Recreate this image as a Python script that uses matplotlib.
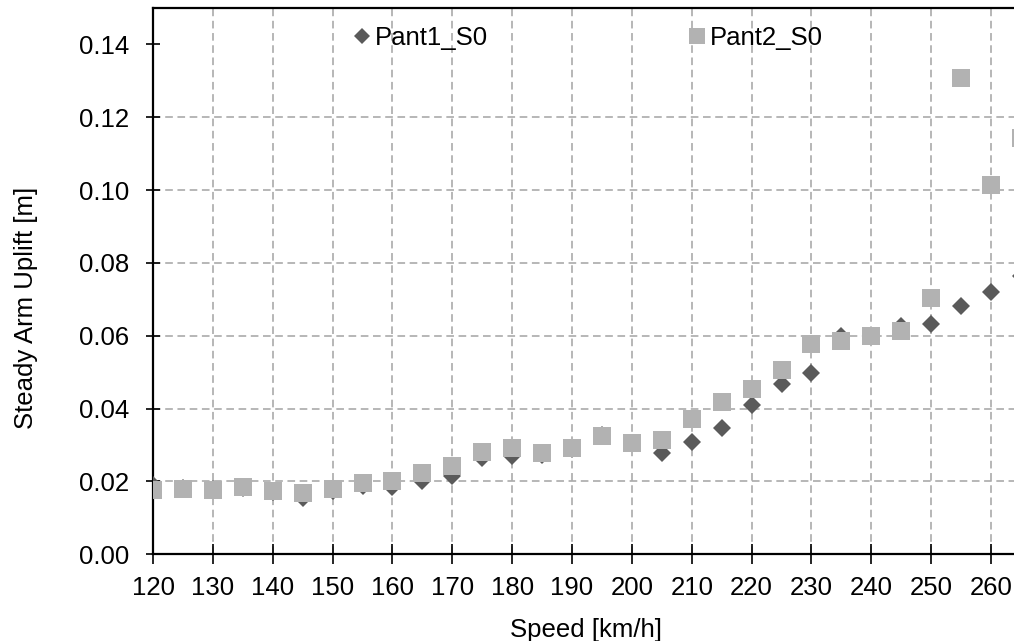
import matplotlib
matplotlib.use("Agg")
import matplotlib.pyplot as plt

plt.rcParams["font.family"] = ["Liberation Sans", "DejaVu Sans"]
plt.rcParams["font.size"] = 18.5

# Speed steps [km/h] and steady arm uplift [m] for both pantographs
speed = [120, 125, 130, 135, 140, 145, 150, 155, 160, 165,
         170, 175, 180, 185, 190, 195, 200, 205, 210, 215,
         220, 225, 230, 235, 240, 245, 250, 255, 260, 265]

pant1_s0 = [0.0189, 0.0181, 0.0178, 0.0181, 0.0172, 0.0154, 0.0174, 0.0188, 0.0186, 0.0200,
            0.0215, 0.0264, 0.0270, 0.0273, 0.0290, 0.0327, 0.0306, 0.0277, 0.0307, 0.0346,
            0.0411, 0.0467, 0.0499, 0.0598, 0.0600, 0.0626, 0.0633, 0.0681, 0.0719, 0.0764]

pant2_s0 = [0.0176, 0.0178, 0.0177, 0.0184, 0.0175, 0.0168, 0.0179, 0.0196, 0.0200, 0.0222,
            0.0241, 0.0282, 0.0291, 0.0279, 0.0291, 0.0326, 0.0306, 0.0315, 0.0372, 0.0417,
            0.0453, 0.0505, 0.0577, 0.0586, 0.0598, 0.0613, 0.0703, 0.1307, 0.1015, 0.1142]

x_ticks = list(range(120, 261, 10))
y_ticks = [0.00, 0.02, 0.04, 0.06, 0.08, 0.10, 0.12, 0.14]

fig = plt.figure(figsize=(10.14, 6.41), dpi=100)
# axes runs past the right edge of the figure on purpose
ax = fig.add_axes([0.1509, 0.1353, 0.8855, 0.8524])

ax.plot(speed, pant1_s0, linestyle="none", marker="D", markersize=8.8,
        color="#5a5a5a", markeredgewidth=0, label="Pant1_S0", zorder=3)
ax.plot(speed, pant2_s0, linestyle="none", marker="s", markersize=12.5,
        color="#b2b2b2", markeredgewidth=0, label="Pant2_S0", zorder=4)

ax.set_xlim(120, 270)
ax.set_ylim(0, 0.15)
ax.set_xticks(x_ticks)
ax.set_yticks(y_ticks)
ax.set_yticklabels([f"{v:.2f}" for v in y_ticks])

ax.tick_params(axis="x", direction="inout", length=15, width=1.2, pad=8.5)
ax.tick_params(axis="y", direction="inout", length=10, width=1.2, pad=12)

for side in ["left", "bottom", "top"]:
    ax.spines[side].set_linewidth(1.6)
ax.spines["right"].set_visible(False)

# dashed grid; nothing on the axis line itself or at the top tick
ax.grid(True, color="#a3a3a3", linestyle=(0, (5, 3)), linewidth=1.1)
ax.set_axisbelow(True)
xgrid = ax.xaxis.get_gridlines()
ygrid = ax.yaxis.get_gridlines()
xgrid[0].set_visible(False)
ygrid[0].set_visible(False)
ygrid[-1].set_visible(False)

fig.text(586.5 / 1014, 1 - 636.5 / 641, "Speed [km/h]", ha="center", va="baseline")
fig.text(26 / 1014, 1 - 308 / 641, "Steady Arm Uplift [m]", rotation=90,
         ha="center", va="center")

ax.legend(loc="center left", bbox_to_anchor=(351.7 / 1014, 1 - 38.3 / 641),
          bbox_transform=fig.transFigure, ncol=2, frameon=False,
          borderpad=0, borderaxespad=0, handlelength=0.8, handletextpad=0.1,
          columnspacing=7.75, markerscale=0.95)

fig.savefig("out.png", dpi=100)
